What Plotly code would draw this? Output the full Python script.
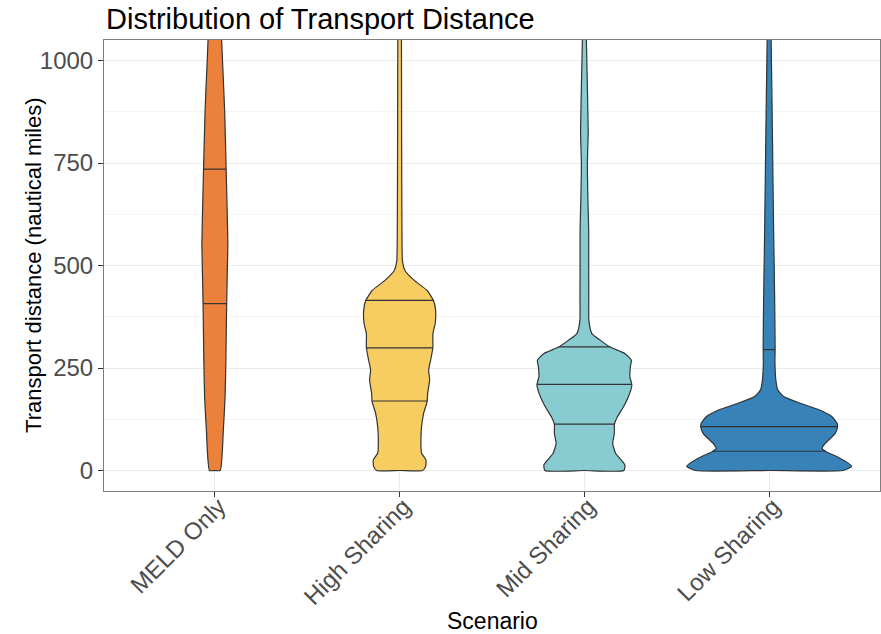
import numpy as np
import plotly.graph_objects as go

categories = ["MELD Only", "High Sharing", "Mid Sharing", "Low Sharing"]

# violin outlines: distance (nautical miles) and relative density (1 = widest)
meld_dist = [0, 99, 180, 261, 407, 488, 553, 641, 735, 876, 990, 1049, 1100]
meld_dens = [0.064, 0.102, 0.123, 0.132, 0.142, 0.150, 0.156, 0.147, 0.136, 0.118, 0.094, 0.082, 0.072]

high_dist = [0, 10, 26, 42, 75, 107, 139, 168, 188, 221, 245, 269, 300, 334, 358, 390, 414, 439, 463, 488, 512, 585, 828, 1049, 1100]
high_dens = [0.276, 0.313, 0.316, 0.264, 0.256, 0.264, 0.288, 0.331, 0.337, 0.361, 0.349, 0.373, 0.400, 0.400, 0.427, 0.433, 0.409, 0.331, 0.180, 0.064, 0.034, 0.028, 0.024, 0.022, 0.020]

mid_dist = [0, 14, 26, 42, 66, 91, 113, 131, 155, 180, 208, 229, 253, 269, 285, 301, 318, 334, 366, 415, 504, 585, 666, 747, 828, 1049, 1100]
mid_dens = [0.475, 0.487, 0.441, 0.376, 0.340, 0.361, 0.361, 0.397, 0.469, 0.529, 0.571, 0.547, 0.553, 0.565, 0.490, 0.310, 0.190, 0.090, 0.054, 0.053, 0.052, 0.052, 0.042, 0.036, 0.046, 0.024, 0.022]

low_dist = [0, 10, 18, 34, 46, 54, 66, 90, 107, 115, 131, 148, 164, 180, 196, 220, 261, 302, 423, 585, 747, 910, 1049, 1100]
low_dens = [0.889, 0.992, 0.950, 0.811, 0.685, 0.637, 0.673, 0.793, 0.823, 0.817, 0.757, 0.601, 0.373, 0.180, 0.105, 0.081, 0.070, 0.072, 0.066, 0.054, 0.044, 0.034, 0.024, 0.022]

# quartile lines (25%, 50%, 75%) visible in the panel
meld_q = [407, 735]
high_q = [169.5, 299, 415]
mid_q = [113, 210, 301.5]
low_q = [47, 107, 295]

colors = ["#EC813B", "#F7CD62", "#88CCD2", "#3783B9"]
outline = "#333333"
half_width = 0.45

profiles = [(meld_dist, meld_dens, meld_q), (high_dist, high_dens, high_q),
            (mid_dist, mid_dens, mid_q), (low_dist, low_dens, low_q)]

fig = go.Figure()
for i, (dist, dens, qs) in enumerate(profiles):
    c = i + 1
    d = np.array(dens) * half_width
    y = np.array(dist, dtype=float)
    xs = list(c - d) + list((c + d)[::-1]) + [c, c - d[0]]
    ys = list(y) + list(y[::-1]) + [y[0], y[0]]
    fig.add_trace(go.Scatter(x=xs, y=ys, mode="lines", fill="toself",
                             fillcolor=colors[i],
                             line=dict(color=outline, width=1.2, shape="spline", smoothing=0.5),
                             hoverinfo="skip", showlegend=False))
    qx, qy = [], []
    for q in qs:
        w = np.interp(q, y, d)
        qx += [c - w, c + w, None]
        qy += [q, q, None]
    fig.add_trace(go.Scatter(x=qx, y=qy, mode="lines",
                             line=dict(color=outline, width=1.2),
                             hoverinfo="skip", showlegend=False))

font_family = "Liberation Sans, Arial, sans-serif"
fig.update_layout(
    width=881, height=634,
    margin=dict(l=104, r=1, t=40, b=143, autoexpand=False),
    paper_bgcolor="white", plot_bgcolor="white",
    font=dict(family=font_family, color="#000000"),
    showlegend=False,
    xaxis=dict(range=[0.4, 4.6], tickvals=[1, 2, 3, 4], ticktext=categories,
               tickangle=-45, tickfont=dict(size=24, color="#4D4D4D"),
               ticklabelstandoff=-14, ticklabelshift=4, automargin=False,
               showgrid=True, gridcolor="#EBEBEB", gridwidth=1,
               ticks="outside", ticklen=5, tickcolor="#333333", tickwidth=1,
               showline=True, linecolor="#7F7F7F", linewidth=1, mirror=True,
               zeroline=False),
    yaxis=dict(range=[-50, 1050], tickvals=[0, 250, 500, 750, 1000],
               tickfont=dict(size=24, color="#4D4D4D"), automargin=False,
               showgrid=True, gridcolor="#EBEBEB", gridwidth=1,
               minor=dict(tickvals=[125, 375, 625, 875], showgrid=True,
                          gridcolor="#F4F4F4", gridwidth=0.6, ticks=""),
               ticks="outside", ticklen=5, tickcolor="#333333", tickwidth=1,
               showline=True, linecolor="#7F7F7F", linewidth=1, mirror=True,
               zeroline=False),
    annotations=[
        dict(text="Distribution of Transport Distance", xref="paper", yref="paper",
             x=0, y=1.047, xanchor="left", yanchor="middle", showarrow=False,
             font=dict(size=29, color="#000000")),
        dict(text="Transport distance (nautical miles)", xref="paper", yref="paper",
             x=-0.091, y=0.5, xanchor="center", yanchor="middle", textangle=-90,
             showarrow=False, font=dict(size=22, color="#000000")),
        dict(text="Scenario", xref="paper", yref="paper",
             x=0.5, y=-0.289, xanchor="center", yanchor="middle", showarrow=False,
             font=dict(size=23, color="#000000")),
    ],
)

post = ("document.body.style.margin='0';document.body.style.overflow='hidden';"
        "var gd=document.getElementById('{plot_id}');"
        "Plotly.relayout(gd,{width:881,height:634});")

fig.write_html("out.html", post_script=post, config={"displayModeBar": False})
